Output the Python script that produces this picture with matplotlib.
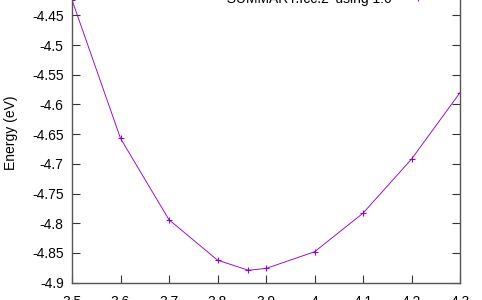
import matplotlib
matplotlib.use('Agg')
import matplotlib.pyplot as plt

# lattice constant vs energy
lat = [3.5, 3.6, 3.7, 3.8, 3.8635, 3.9, 4.0, 4.1, 4.2, 4.3]
energy = [-4.424, -4.657, -4.794, -4.862, -4.879, -4.876, -4.848, -4.783, -4.692, -4.580]
xticks = [3.5, 3.6, 3.7, 3.8, 3.9, 4.0, 4.1, 4.2, 4.3]
xtick_labels = ['3.5', '3.6', '3.7', '3.8', '3.9', '4', '4.1', '4.2', '4.3']
yticks = [-4.9, -4.85, -4.8, -4.75, -4.7, -4.65, -4.6, -4.55, -4.5, -4.45, -4.4]
ytick_labels = ['-4.9', '-4.85', '-4.8', '-4.75', '-4.7', '-4.65', '-4.6', '-4.55', '-4.5', '-4.45', '-4.4']

plt.rcParams['font.family'] = ['Liberation Sans', 'DejaVu Sans']
plt.rcParams['font.size'] = 10

fig = plt.figure(figsize=(4.82, 3.0), dpi=100)
# plot area runs past the top edge (the reference is a crop)
ax = fig.add_axes([72/482, 17.3/300, 388/482, 297/300])

ax.plot(lat, energy, color='#9400d3', lw=0.65, marker='+', ms=5, mew=0.8,
        label="'SUMMARY.fcc.2' using 1:6")

ax.set_xlim(3.5, 4.3)
ax.set_ylim(-4.9, -4.4)
ax.set_xticks(xticks)
ax.set_xticklabels(xtick_labels)
ax.set_yticks(yticks)
ax.set_yticklabels(ytick_labels)
ax.tick_params(direction='in', length=6, width=0.8, color='#333333',
               top=True, right=True, labelsize=10)
ax.tick_params(axis='x', pad=9)
ax.tick_params(axis='y', pad=6)
for s in ax.spines.values():
    s.set_color('#555555')
    s.set_linewidth(1.0)

ax.set_ylabel('Energy (eV)', fontsize=10)
ax.yaxis.set_label_coords(-54/388, (300 - 133 - 17.3)/297)

ax.legend(loc='center right', bbox_to_anchor=(444/482, 1.003),
          bbox_transform=fig.transFigure, frameon=False, markerfirst=False,
          borderpad=0, handlelength=2.7, handletextpad=0.6, fontsize=10)

fig.savefig('out.png', dpi=100)
